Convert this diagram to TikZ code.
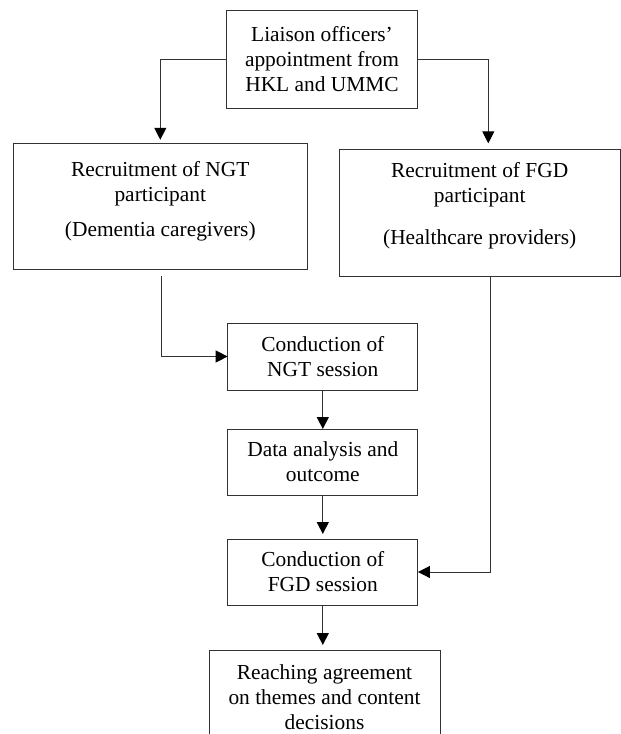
\documentclass[tikz,border=0pt]{standalone}
\usepackage{fontspec}
\setmainfont{Liberation Serif}
\usetikzlibrary{arrows.meta}
\begin{document}
\begin{tikzpicture}[x=1pt,y=-1pt,
  box/.style={draw=black!80, line width=1pt, inner sep=0pt, outer sep=0pt},
  txt/.style={align=center, inner sep=0pt, font=\fontsize{21.4}{25}\selectfont},
  arr/.style={draw=black!80, line width=1pt, -{Triangle[length=12pt,width=12pt,color=black]}}]
\useasboundingbox (0,0) rectangle (621,734);
% boxes
\node[box, txt, minimum width=190.6, minimum height=97.6] (top) at (322,59.5)
  {Liaison officers’\\appointment from\\HKL and UMMC};
\node[box, minimum width=294, minimum height=126] (ngtR) at (160.3,206.3) {};
\node[txt] (ngtRt) at (160.3,201) {Recruitment of NGT\\participant\\[10pt](Dementia caregivers)};
\node[box, minimum width=280.7, minimum height=126.7] (fgdR) at (479.7,212.7) {};
\node[txt] (fgdRt) at (479.7,206) {Recruitment of FGD\\participant\\[17pt](Healthcare providers)};
\node[box, txt, minimum width=190.3, minimum height=67] (ngt) at (322.8,356.5)
  {Conduction of\\NGT session};
\node[box, txt, minimum width=190.3, minimum height=66] (data) at (322.8,462)
  {Data analysis and\\outcome};
\node[box, txt, minimum width=190.3, minimum height=66] (fgd) at (322.8,572)
  {Conduction of\\FGD session};
\node[box, txt, minimum width=231, minimum height=95] (reach) at (324.5,697.5)
  {Reaching agreement\\on themes and content\\decisions};
% connectors
\draw[arr, shorten >=3.5pt] (top.west) -| (ngtR.north);
\draw[arr, shorten >=6pt] (top.east) -| ([xshift=8.6pt]fgdR.north);
\draw[arr, shorten <=6.7pt] ([xshift=1.4pt]ngtR.south) |- (ngt.west);
\draw[arr] (ngt.south) -- (data.north);
\draw[arr, shorten >=5pt] (data.south) -- (fgd.north);
\draw[arr] ([xshift=11pt]fgdR.south) |- (fgd.east);
\draw[arr, shorten >=5pt] (fgd.south) -- (fgd.south |- reach.north);
\end{tikzpicture}
\end{document}
